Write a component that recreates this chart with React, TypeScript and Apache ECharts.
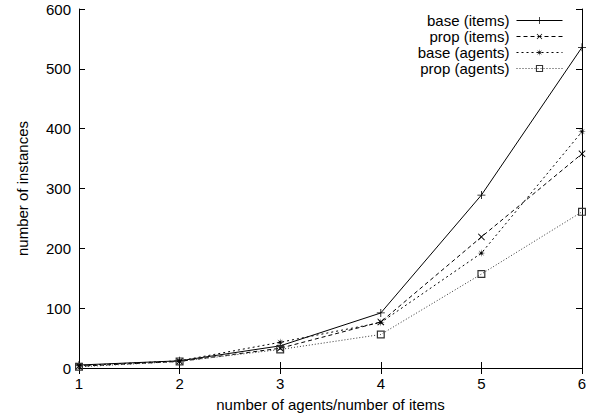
import React, { useEffect, useRef } from "react";
import * as echarts from "echarts";

const categories = ["1", "2", "3", "4", "5", "6"];
const seriesNames = ["base (items)", "prop (items)", "base (agents)", "prop (agents)"];
const baseItems = [5, 12, 37, 92, 289, 536];
const propItems = [3, 11, 33, 77, 219, 358];
const baseAgents = [4, 12, 43, 76, 192, 395];
const propAgents = [2, 11, 31, 56, 157, 261];
const yTicks = [0, 100, 200, 300, 400, 500, 600];

const PLUS = "path://M4.5,0H5.5V4.5H10V5.5H5.5V10H4.5V5.5H0V4.5H4.5Z";
const STAR =
  "path://M10,5L6.2,5.5L8.54,8.54L5.5,6.2L5,10L4.5,6.2L1.46,8.54L3.8,5.5L0,5L3.8,4.5L1.46,1.46L4.5,3.8L5,0L5.5,3.8L8.54,1.46L6.2,4.5Z";
const SQUARE = "path://M0,0H10V10H0Z M1.5,1.5V8.5H8.5V1.5Z";

export default function App() {
  const ref = useRef<HTMLDivElement>(null);
  useEffect(() => {
    if (!ref.current) return;
    const chart = echarts.init(ref.current, null, { renderer: "svg" });
    const font = "Liberation Sans";
    const fs = 15;
    const mk = (
      name: string,
      data: number[],
      symbol: string,
      size: number,
      rotate: number,
      type: any,
      color: string
    ) => ({
      name,
      type: "line",
      data,
      symbol,
      symbolSize: size,
      symbolRotate: rotate,
      showAllSymbol: true,
      lineStyle: { color, width: 1, type },
      itemStyle: { color, borderWidth: 0 },
      emphasis: { disabled: true },
    });
    chart.setOption({
      animation: false,
      textStyle: { fontFamily: font },
      grid: { left: 79, right: 15, top: 9, bottom: 52 },
      legend: {
        orient: "vertical",
        right: 29,
        top: 8,
        align: "right",
        itemWidth: 46,
        itemHeight: 9,
        itemGap: 1,
        lineStyle: { width: 1 },
        textStyle: { fontFamily: font, fontSize: fs, lineHeight: 15, color: "#000", padding: [0, 2, 0, 0] },
        data: seriesNames,
      },
      xAxis: [
        {
          type: "category",
          data: categories,
          boundaryGap: false,
          name: "number of agents/number of items",
          nameLocation: "middle",
          nameGap: 29,
          nameTextStyle: { fontFamily: font, fontSize: fs, color: "#000" },
          axisLine: { lineStyle: { color: "#000", width: 1 } },
          axisTick: { inside: true, length: 6, lineStyle: { color: "#000" } },
          axisLabel: { fontFamily: font, fontSize: fs, color: "#000", margin: 8 },
          splitLine: { show: false },
        },
        {
          type: "category",
          data: categories,
          boundaryGap: false,
          position: "top",
          axisLine: { lineStyle: { color: "#000", width: 1 } },
          axisTick: { inside: true, length: 6, lineStyle: { color: "#000" } },
          axisLabel: { show: false },
          splitLine: { show: false },
        },
      ],
      yAxis: [
        {
          type: "value",
          min: yTicks[0],
          max: yTicks[yTicks.length - 1],
          interval: 100,
          name: "number of instances",
          nameLocation: "middle",
          nameGap: 49,
          nameTextStyle: { fontFamily: font, fontSize: fs, color: "#000" },
          axisLine: { show: true, lineStyle: { color: "#000", width: 1 } },
          axisTick: { show: true, inside: true, length: 6, lineStyle: { color: "#000" } },
          axisLabel: { fontFamily: font, fontSize: fs, color: "#000", margin: 8 },
          splitLine: { show: false },
        },
        {
          type: "value",
          min: yTicks[0],
          max: yTicks[yTicks.length - 1],
          interval: 100,
          position: "right",
          axisLine: { show: true, lineStyle: { color: "#000", width: 1 } },
          axisTick: { show: true, inside: true, length: 6, lineStyle: { color: "#000" } },
          axisLabel: { show: false },
          splitLine: { show: false },
        },
      ],
      series: [
        mk(seriesNames[0], baseItems, PLUS, 8, 0, "solid", "#000"),
        mk(seriesNames[1], propItems, PLUS, 9, 45, [4, 3], "#000"),
        mk(seriesNames[2], baseAgents, STAR, 8, 0, [2, 3], "#000"),
        mk(seriesNames[3], propAgents, SQUARE, 8, 0, [1, 2], "#333"),
      ],
    });
    return () => chart.dispose();
  }, []);
  return <div ref={ref} style={{ width: 597, height: 420, position: "absolute", left: 0, top: 0 }} />;
}
